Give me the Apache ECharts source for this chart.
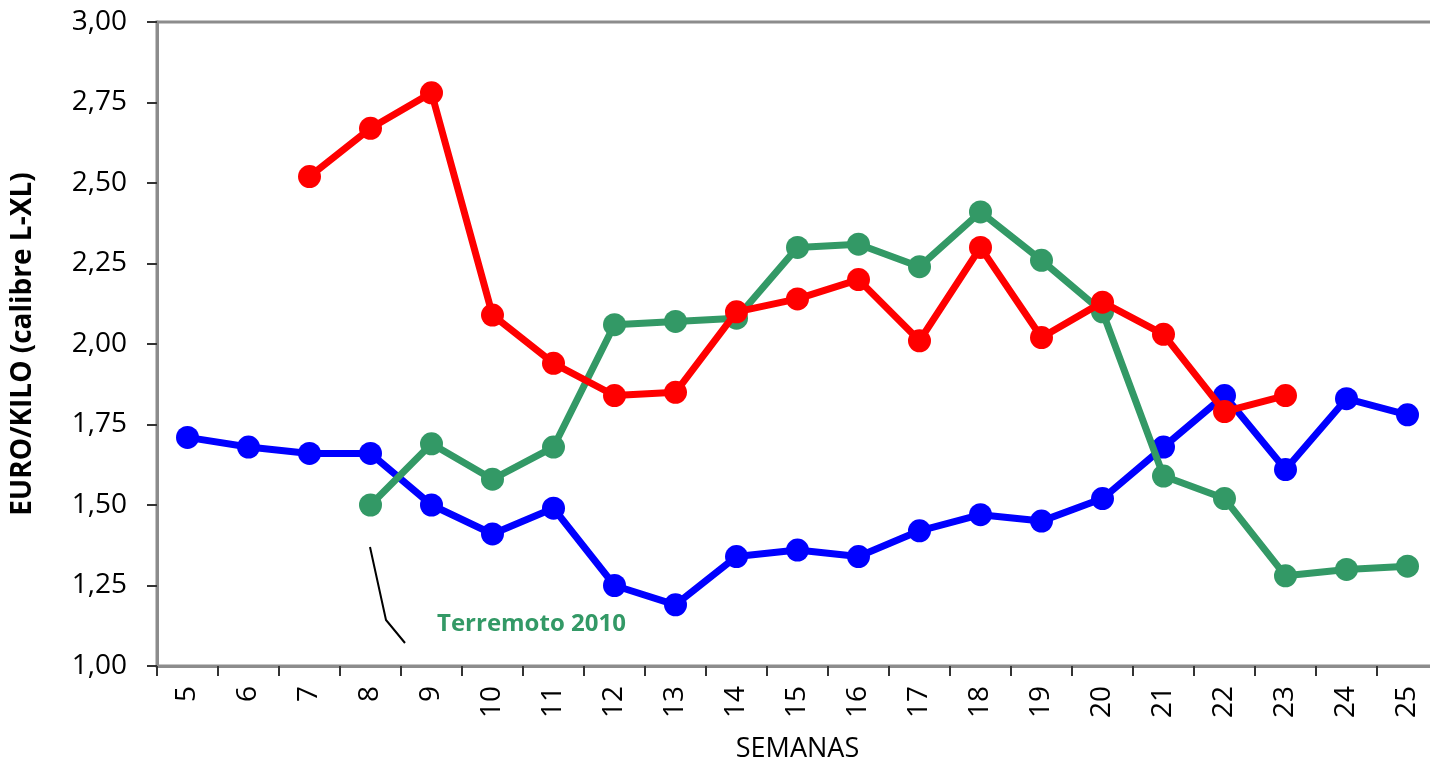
<!DOCTYPE html>
<html>
<head>
<meta charset="utf-8">
<script src="https://cdn.jsdelivr.net/npm/echarts@6/dist/echarts.min.js"></script>
<style>
  html, body { margin: 0; padding: 0; background: #fff; }
  #chart { width: 1430px; height: 766px; }
</style>
</head>
<body>
<div id="chart"></div>
<script>
// semanas
var weeks = ['5', '6', '7', '8', '9', '10', '11', '12', '13', '14', '15',
  '16', '17', '18', '19', '20', '21', '22', '23', '24', '25']

// precios euro/kilo por serie
var blueValues = [1.71, 1.68, 1.66, 1.66, 1.50, 1.41, 1.49, 1.25, 1.19, 1.34, 1.36,
  1.34, 1.42, 1.47, 1.45, 1.52, 1.68, 1.84, 1.61, 1.83, 1.78]
var redValues = [null, null, 2.52, 2.67, 2.78, 2.09, 1.94, 1.84, 1.85, 2.10, 2.14,
  2.20, 2.01, 2.30, 2.02, 2.13, 2.03, 1.79, 1.84, null, null]
var greenValues = [null, null, null, 1.50, 1.69, 1.58, 1.68, 2.06, 2.07, 2.08, 2.30,
  2.31, 2.24, 2.41, 2.26, 2.10, 1.59, 1.52, 1.28, 1.30, 1.31]

var yTicks = { min: 1, max: 3, step: 0.25 }

var font = "'Open Sans', sans-serif"

function lineSeries(name, data, color, z) {
  return {
    name: name,
    type: 'line',
    data: data,
    z: z,
    symbol: 'circle',
    symbolSize: 23,
    connectNulls: false,
    itemStyle: { color: color },
    lineStyle: { color: color, width: 7 },
    emphasis: { disabled: true }
  }
}

var chart = echarts.init(document.getElementById('chart'))
var option = {
  animation: false,
  textStyle: { fontFamily: font },
  grid: {
    left: 157,
    top: 22,
    width: 1281,
    height: 644,
    show: true,
    borderColor: '#8c8c8c',
    borderWidth: 3,
    containLabel: false,
    outerBoundsMode: 'none'
  },
  xAxis: {
    type: 'category',
    data: weeks,
    boundaryGap: true,
    name: 'SEMANAS',
    nameLocation: 'middle',
    nameGap: 70,
    nameTextStyle: { fontSize: 27, color: '#000', fontFamily: font },
    axisLine: { lineStyle: { color: '#8c8c8c', width: 3 } },
    axisTick: { show: true, length: 10, lineStyle: { color: '#333', width: 2 } },
    axisLabel: { rotate: 90, margin: 20, fontSize: 28, color: '#000', fontFamily: font },
    splitLine: { show: false }
  },
  yAxis: {
    type: 'value',
    min: yTicks.min,
    max: yTicks.max,
    interval: yTicks.step,
    name: 'EURO/KILO (calibre L-XL)',
    nameLocation: 'middle',
    nameGap: 120,
    nameTextStyle: { fontSize: 28, fontWeight: 'bold', color: '#000', fontFamily: font },
    axisLine: { show: true, lineStyle: { color: '#8c8c8c', width: 3 } },
    axisTick: { show: true, length: 10, lineStyle: { color: '#333', width: 2 } },
    axisLabel: {
      margin: 30,
      fontSize: 28,
      color: '#000',
      fontFamily: font,
      formatter: function (v) { return v.toFixed(2).replace('.', ',') }
    },
    splitLine: { show: false }
  },
  series: [
    lineSeries('azul', blueValues, '#0000ff', 2),
    lineSeries('verde', greenValues, '#339966', 3),
    lineSeries('rojo', redValues, '#ff0000', 4)
  ],
  graphic: [
    {
      type: 'polyline',
      shape: { points: [[370, 547], [386, 620], [405, 643]] },
      style: { stroke: '#000', lineWidth: 2, fill: null },
      z: 10
    },
    {
      type: 'text',
      left: 437,
      top: 612,
      style: {
        text: 'Terremoto 2010',
        fill: '#339966',
        font: 'bold 24px ' + font
      },
      z: 10
    }
  ]
}
chart.setOption(option)
</script>
</body>
</html>
